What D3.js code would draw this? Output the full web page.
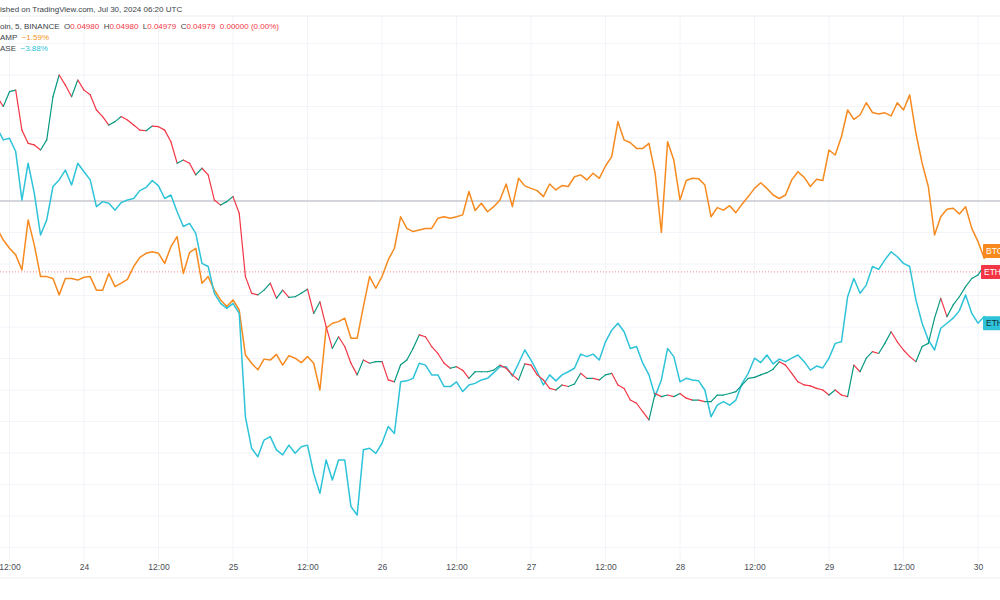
<!DOCTYPE html>
<html>
<head>
<meta charset="utf-8">
<script src="https://cdn.jsdelivr.net/npm/d3@7"></script>
<style>
  body { margin: 0; background: #fff; }
  svg { display: block; font-family: "Liberation Sans", Arial, sans-serif; }
</style>
</head>
<body>
<svg width="1000" height="600"></svg>
<script>
// hourly closes, % change vs. compare base, from Jul 23 10:00 to Jul 30 02:00 (exchange time)
var firstHour = Date.UTC(2024, 6, 23, 10);

var ethBtc = [3.31, 3.0, 3.47, 3.52, 2.25, 1.83, 1.78, 1.62, 1.94, 3.31, 4.0, 3.68, 3.31, 3.84,
  3.52, 3.37, 2.89, 2.68, 2.41, 2.52, 2.68, 2.57, 2.41, 2.25, 2.23, 2.38, 2.36, 2.25, 1.88, 1.2,
  1.3, 1.2, 0.83, 1.04, 0.83, 0.03, -0.13, -0.02, 0.14, -0.39, -2.4, -2.93, -2.98, -2.83, -2.61,
  -3.09, -2.83, -3.06, -3.04, -2.93, -2.8, -3.57, -3.2, -3.99, -4.68, -4.31, -4.62, -5.15, -5.52,
  -5.05, -5.15, -5.1, -5.1, -5.68, -5.74, -5.2, -5.05, -4.68, -4.25, -4.31, -4.62, -4.84, -5.15,
  -5.31, -5.26, -5.37, -5.63, -5.42, -5.42, -5.42, -5.37, -5.21, -5.31, -5.52, -5.68, -5.17, -5.21,
  -5.52, -5.68, -5.95, -6.0, -5.84, -5.89, -5.81, -5.47, -5.63, -5.63, -5.68, -5.52, -5.47, -5.84,
  -5.95, -6.32, -6.42, -6.69, -6.95, -6.11, -6.21, -6.16, -6.21, -6.11, -6.26, -6.32, -6.32, -6.37,
  -6.37, -6.16, -6.16, -6.11, -6.05, -5.84, -5.63, -5.6, -5.52, -5.45, -5.34, -5.1, -5.21, -5.47,
  -5.74, -5.84, -5.87, -5.95, -6.0, -6.16, -6.0, -6.16, -6.21, -5.21, -5.42, -4.99, -4.78, -4.84,
  -4.52, -4.15, -4.47, -4.73, -4.94, -5.1, -4.62, -4.52, -3.72, -3.09, -3.67, -3.3, -3.04, -2.72,
  -2.46, -2.35, -2.05, -2.25];

var btcUsd = [-0.87, -1.24, -1.5, -1.71, -2.19, -0.6, -1.4, -2.4, -2.4, -2.46, -2.98, -2.46, -2.46,
  -2.51, -2.42, -2.4, -2.83, -2.83, -2.3, -2.72, -2.61, -2.49, -2.08, -1.79, -1.66, -1.61, -1.66,
  -1.98, -1.45, -1.13, -2.3, -1.64, -1.5, -2.61, -2.4, -2.83, -3.14, -3.35, -3.14, -3.46, -4.89,
  -5.15, -5.36, -5.02, -5.05, -4.87, -5.21, -4.91, -4.99, -5.13, -4.94, -5.15, -6.0, -4.04, -3.88,
  -3.83, -3.72, -4.36, -4.36, -3.35, -2.4, -2.77, -2.4, -1.87, -1.5, -0.5, -0.87, -0.97, -0.92,
  -0.87, -0.87, -0.55, -0.5, -0.55, -0.5, -0.44, 0.3, -0.3, -0.07, -0.34, -0.18, 0.03, 0.54, -0.18,
  0.72, 0.48, 0.4, 0.33, 0.14, 0.54, 0.35, 0.49, 0.46, 0.77, 0.83, 0.67, 0.88, 0.72, 1.11, 1.41,
  2.52, 1.94, 1.85, 1.67, 1.67, 1.83, 0.88, -1.0, 1.88, 1.3, 0.03, 0.65, 0.72, 0.71, 0.51, -0.5,
  -0.21, -0.29, -0.15, -0.37, -0.1, 0.14, 0.4, 0.58, 0.4, 0.19, 0.08, 0.19, 0.67, 0.93, 0.75, 0.46,
  0.69, 0.65, 1.62, 1.46, 2.04, 2.89, 2.59, 2.73, 3.12, 2.81, 2.76, 2.8, 2.7, 3.12, 2.89, 3.37,
  2.15, 1.2, 0.46, -1.08, -0.5, -0.26, -0.23, -0.41, -0.18, -0.87, -1.29, -1.82, -1.59];

var ethUsd = [2.31, 1.94, 1.99, 1.57, 0.03, 1.2, 0.24, -1.08, -0.6, 0.46, 0.67, 0.98, 0.51, 1.2,
  0.93, 0.67, -0.18, -0.02, -0.07, -0.29, -0.05, 0.03, 0.08, 0.33, 0.43, 0.65, 0.48, 0.08, 0.19,
  -0.34, -0.81, -0.71, -1.03, -1.98, -2.08, -2.93, -3.25, -3.41, -3.25, -3.57, -6.85, -7.85, -8.12,
  -7.59, -7.48, -7.9, -8.06, -7.75, -8.01, -7.8, -7.75, -8.65, -9.28, -8.22, -8.86, -8.22, -8.22,
  -9.7, -9.97, -7.9, -7.85, -8.01, -7.69, -7.16, -7.38, -5.74, -5.71, -5.63, -5.15, -5.21, -5.52,
  -5.52, -5.89, -5.89, -5.74, -6.05, -5.84, -5.79, -5.68, -5.63, -5.45, -5.26, -5.26, -5.56, -5.15,
  -4.73, -5.05, -5.42, -5.84, -5.52, -5.71, -5.52, -5.42, -5.31, -4.86, -4.94, -4.86, -5.05, -4.47,
  -4.1, -3.88, -4.15, -4.68, -4.62, -5.15, -5.52, -6.2, -5.68, -4.68, -4.94, -5.74, -5.63, -5.68,
  -5.71, -6.0, -6.85, -6.48, -6.37, -6.48, -6.32, -5.79, -5.47, -4.99, -5.13, -4.89, -5.17, -5.02,
  -5.1, -4.99, -4.89, -5.1, -5.37, -5.24, -5.3, -4.99, -4.52, -4.47, -3.04, -2.46, -2.93, -2.67,
  -2.08, -2.17, -1.87, -1.61, -1.77, -1.98, -2.08, -3.14, -3.88, -4.41, -4.73, -4.04, -3.88, -3.72,
  -3.48, -2.98, -3.57, -3.88, -3.67, -3.88];

var headerLines = [
  [{t: "ished on TradingView.com, Jul 30, 2024 06:20 UTC", c: "#3c3f47"}],
  [{t: "oin, 5, BINANCE  ", c: "#3c3f47"}, {t: "O", c: "#3c3f47"}, {t: "0.04980  ", c: "#f23645"},
   {t: "H", c: "#3c3f47"}, {t: "0.04980  ", c: "#f23645"}, {t: "L", c: "#3c3f47"}, {t: "0.04979  ", c: "#f23645"},
   {t: "C", c: "#3c3f47"}, {t: "0.04979  0.00000 (0.00%)", c: "#f23645"}],
  [{t: "AMP  ", c: "#3c3f47"}, {t: "\u22121.59%", c: "#f7931a"}],
  [{t: "ASE  ", c: "#3c3f47"}, {t: "\u22123.88%", c: "#2ec3d9"}]
];

var orange = "#f68a1e", cyan = "#2ec3d9", up = "#089981", down = "#f23645";

var svg = d3.select("svg"),
    width = +svg.attr("width"),
    paneTop = 16, paneBottom = 562;

var times = ethBtc.map(function(d, i) { return new Date(firstHour + i * 3600e3); });

var x = d3.scaleUtc()
    .domain([Date.UTC(2024, 6, 24), Date.UTC(2024, 6, 30)])
    .range([84, 978]);
var y = d3.scaleLinear().domain([4, -11]).range([75, 547.5]);

// grid
var tickDates = d3.utcHour.every(12).range(x.invert(0), x.invert(width));
svg.append("g").selectAll("line").data(tickDates).enter().append("line")
    .attr("x1", function(d) { return x(d); }).attr("x2", function(d) { return x(d); })
    .attr("y1", paneTop).attr("y2", paneBottom)
    .attr("stroke", "#f2f4f9");
svg.append("g").selectAll("line").data(d3.range(-11, 6)).enter().append("line")
    .attr("x1", 0).attr("x2", width)
    .attr("y1", function(d) { return y(d); }).attr("y2", function(d) { return y(d); })
    .attr("stroke", "#f2f4f9");
svg.append("line").attr("x1", 0).attr("x2", width).attr("y1", paneTop).attr("y2", paneTop).attr("stroke", "#eceef3");
svg.append("line").attr("x1", 0).attr("x2", width).attr("y1", 578).attr("y2", 578).attr("stroke", "#eceef3");

// time axis
var xAxis = d3.axisBottom(x).tickValues(tickDates).tickSize(0)
    .tickFormat(function(d) { return d.getUTCHours() === 0 ? d3.utcFormat("%-d")(d) : "12:00"; });
var ax = svg.append("g").attr("transform", "translate(0," + 561 + ")").call(xAxis);
ax.select(".domain").remove();
ax.selectAll("text").attr("fill", "#4a4d55").attr("font-size", "8.5px")
    .attr("font-family", "'Liberation Sans', Arial, sans-serif");

// zero line and last price line
svg.append("line").attr("x1", 0).attr("x2", width).attr("y1", y(0)).attr("y2", y(0))
    .attr("stroke", "#b0b3bd").attr("stroke-width", 1);
svg.append("line").attr("x1", 0).attr("x2", width)
    .attr("y1", y(ethBtc[ethBtc.length - 1])).attr("y2", y(ethBtc[ethBtc.length - 1]))
    .attr("stroke", down).attr("stroke-opacity", 0.6).attr("stroke-dasharray", "1,2");

svg.append("clipPath").attr("id", "clip").append("rect")
    .attr("x", 0).attr("y", paneTop).attr("width", width).attr("height", paneBottom - paneTop);
var plot = svg.append("g").attr("clip-path", "url(#clip)");

var line = d3.line()
    .x(function(d, i) { return x(times[i]); })
    .y(function(d) { return y(d); });

plot.append("path").datum(btcUsd).attr("d", line)
    .attr("fill", "none").attr("stroke", orange).attr("stroke-width", 1.5).attr("stroke-linejoin", "round");
plot.append("path").datum(ethUsd).attr("d", line)
    .attr("fill", "none").attr("stroke", cyan).attr("stroke-width", 1.5).attr("stroke-linejoin", "round");

// candles drawn as thin open->close strokes
plot.append("g").selectAll("line").data(ethBtc.slice(1)).enter().append("line")
    .attr("x1", function(d, i) { return x(times[i]); })
    .attr("y1", function(d, i) { return y(ethBtc[i]); })
    .attr("x2", function(d, i) { return x(times[i + 1]); })
    .attr("y2", function(d) { return y(d); })
    .attr("stroke", function(d, i) { return d >= ethBtc[i] ? up : down; })
    .attr("stroke-width", 1.2)
    .attr("stroke-linecap", "round");

// header legend
headerLines.forEach(function(parts, i) {
  var t = svg.append("text").attr("x", 0).attr("y", [12, 29, 40, 51][i]).attr("font-size", "8px");
  parts.forEach(function(p) {
    t.append("tspan").attr("fill", p.c).attr("xml:space", "preserve").text(p.t);
  });
});

// last value tags
var tags = [
  {v: btcUsd[btcUsd.length - 1], t: "BTC", bg: orange, fg: "#fff", x: 983},
  {v: ethBtc[ethBtc.length - 1], t: "ETH", bg: down, fg: "#fff", x: 981},
  {v: ethUsd[ethUsd.length - 1], t: "ETH", bg: cyan, fg: "#113138", x: 983}
];
var tag = svg.append("g").selectAll("g").data(tags).enter().append("g")
    .attr("transform", function(d) { return "translate(" + d.x + "," + y(d.v) + ")"; });
tag.append("rect").attr("x", 0).attr("y", -7).attr("width", 24).attr("height", 14).attr("rx", 1)
    .attr("fill", function(d) { return d.bg; });
tag.append("text").attr("x", 3).attr("y", 3).attr("font-size", "8.5px")
    .attr("fill", function(d) { return d.fg; })
    .text(function(d) { return d.t; });
</script>
</body>
</html>
